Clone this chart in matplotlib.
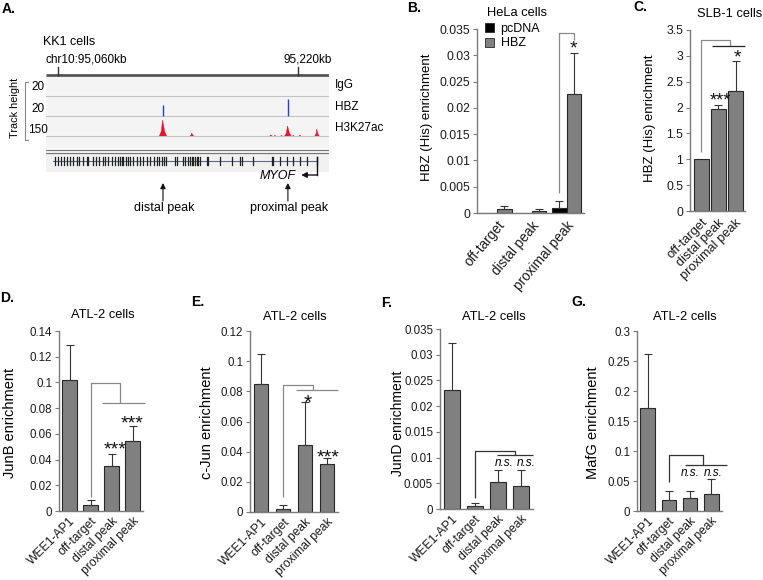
import matplotlib
matplotlib.use('Agg')
import matplotlib.pyplot as plt
from matplotlib.patches import Rectangle, Polygon
import numpy as np

plt.rcParams['font.family'] = ['Liberation Sans', 'DejaVu Sans']

W, H = 763, 580
fig = plt.figure(figsize=(W / 100, H / 100), dpi=100)


def fx(px):
    return px / W


def fy(py):
    return 1 - py / H


def add_ax(x0, y0, x1, y1):
    return fig.add_axes([x0 / W, 1 - y1 / H, (x1 - x0) / W, (y1 - y0) / H])


# ---------------- DATA ----------------
# Panel A (genome browser, positions in kb on chr10)
region_kb = [95052.0, 95240.7]
ruler_ticks_kb = [95060, 95220]
ruler_labels = ['chr10:95,060kb', '95,220kb']
track_names = ['IgG', 'HBZ', 'H3K27ac']
track_scales = ['20', '20', '150']
hbz_peak_kb = [95130.0, 95213.3]
hbz_peak_val = [11, 17]
k27_peak_kb = [95130.0, 95149.3, 95202.0, 95204.7, 95209.0, 95213.3, 95216.9, 95221.3, 95232.7]
k27_peak_val = [120, 22, 8, 4, 4, 75, 4, 6, 52]
k27_peak_halfwidth = [2.4, 1.3, 0.8, 0.5, 0.5, 2.2, 0.5, 0.6, 1.5]
gene_start_kb = 95056.7
gene_end_kb = 95232.7
exon_kb = [95058.0, 95060.2, 95061.8, 95064.0, 95065.8, 95068.0, 95070.2, 95072.4, 95074.2,
           95076.4, 95079.1, 95080.2, 95083.6, 95085.3, 95087.6, 95089.8, 95091.3, 95093.6,
           95095.8, 95098.0, 95100.2, 95101.3, 95102.4, 95103.6, 95105.3, 95106.9, 95108.0,
           95110.2, 95112.4, 95114.7, 95116.9, 95119.6, 95121.3, 95124.0, 95125.8, 95127.6,
           95129.1, 95130.7, 95132.0, 95138.0, 95139.1, 95143.6, 95144.7, 95146.9, 95148.0,
           95149.1, 95150.2, 95151.3, 95152.4, 95153.6, 95154.7, 95159.1, 95160.2, 95168.0,
           95175.8, 95181.3, 95182.4, 95190.2, 95202.4, 95203.6, 95208.0, 95212.4, 95216.9,
           95221.3, 95225.8, 95232.4]
gene_name = 'MYOF'
peak_names = ['distal peak', 'proximal peak']

# Panel B (HeLa)
b_sites = ['off-target', 'distal peak', 'proximal peak']
b_pcdna = [0.00004, 0.00003, 0.0009]
b_pcdna_err = [0.0, 0.0, 0.0013]
b_hbz = [0.0007, 0.0003, 0.0226]
b_hbz_err = [0.0007, 0.0004, 0.0079]

# Panel C (SLB-1)
c_sites = ['off-target', 'distal peak', 'proximal peak']
c_vals = [1.0, 1.97, 2.32]
c_err = [0.0, 0.08, 0.59]

# Panels D-G (ATL-2)
atl_sites = ['WEE1-AP1', 'off-target', 'distal peak', 'proximal peak']
d_junb = [0.102, 0.0047, 0.0353, 0.0543]
d_err = [0.027, 0.0035, 0.0087, 0.0117]
e_cjun = [0.0847, 0.0022, 0.0447, 0.0318]
e_err = [0.0203, 0.0027, 0.028, 0.0042]
f_jund = [0.0231, 0.0005, 0.0052, 0.0044]
f_err = [0.0092, 0.0007, 0.0023, 0.0031]
g_mafg = [0.171, 0.0183, 0.022, 0.028]
g_err = [0.091, 0.0156, 0.012, 0.025]

# ---------------- STYLE ----------------
BAR = '#808080'
EDGE = '#262626'
SPINE = '#7a7a7a'
TICKFS = 8.3


def style_axes(ax, ylim, yticks, xlim, xlabels, xfs=8.7, rot=45, pad=3):
    ax.set_ylim(*ylim)
    ax.set_xlim(*xlim)
    ax.set_yticks(yticks)
    ax.set_yticklabels([f'{v:g}' for v in yticks], fontsize=TICKFS, color='#1a1a1a')
    ax.set_xticks(np.arange(len(xlabels)))
    ax.set_xticklabels(xlabels, rotation=rot, ha='right', rotation_mode='anchor',
                       fontsize=xfs, color='#1a1a1a')
    for s in ['top', 'right']:
        ax.spines[s].set_visible(False)
    for s in ['left', 'bottom']:
        ax.spines[s].set_color(SPINE)
        ax.spines[s].set_linewidth(1.0)
    ax.tick_params(axis='y', direction='out', length=3, width=0.8, color=SPINE, pad=2)
    ax.tick_params(axis='x', length=0, pad=pad)
    ax.patch.set_alpha(0)


def draw_bars(ax, x, vals, errs, width, color=BAR):
    x = np.asarray(x, dtype=float)
    vals = np.asarray(vals)
    errs = np.asarray(errs)
    ax.bar(x, vals, width, color=color, edgecolor=EDGE, linewidth=0.8, zorder=2)
    m = errs > 0
    ax.errorbar(x[m], vals[m], yerr=[np.zeros(m.sum()), errs[m]], fmt='none',
                ecolor='#333333', elinewidth=0.8, capsize=3, capthick=0.8, zorder=3)


def line(ax, xs, ys, color='#888888', lw=0.9):
    ax.plot(xs, ys, color=color, lw=lw, clip_on=False, zorder=4, solid_capstyle='butt')


def star(ax, x, y, s, fs=14):
    # (x, y) is the visual centre of the asterisks; shift text box down since
    # the asterisk glyph sits in the upper part of the line box
    ax.annotate(s, xy=(x, y), xytext=(0, -0.23 * fs), textcoords='offset points',
                ha='center', va='center', fontsize=fs, color='#111111',
                annotation_clip=False)


def panel_letter(px, py, s):
    fig.text(fx(px), fy(py), s, fontsize=10, fontweight='bold', ha='left', va='center')


# ---------------- PANEL A ----------------
axa = add_ax(46, 60, 329, 215)
axa.set_xlim(*region_kb)
axa.set_ylim(215, 60)
axa.axis('off')
x0, x1 = region_kb
axa.add_patch(Rectangle((x0, 76), x1 - x0, 72, facecolor='#f4f4f4', edgecolor='none', zorder=0))
axa.add_patch(Rectangle((x0, 154), x1 - x0, 18, facecolor='#f1f1f1', edgecolor='none', zorder=0))
axa.plot([x0, x1], [75, 75], color='#555555', lw=2.0, solid_capstyle='butt')
for t in ruler_ticks_kb:
    axa.plot([t, t], [67, 75], color='#333333', lw=1.0)
for yy in [96, 116, 136]:
    axa.plot([x0, x1], [yy, yy], color='#c4c4c4', lw=0.8)
for yy in [150, 153]:
    axa.plot([x0, x1], [yy, yy], color='#777777', lw=0.9)
# HBZ track (base 116, 20 units over 20 px)
for p, v in zip(hbz_peak_kb, hbz_peak_val):
    axa.plot([p, p], [116, 116 - v * 20 / 20], color='#1f3fd6', lw=1.0, solid_capstyle='butt')
# H3K27ac track (base 136, 150 units over 20 px)
for p, v, w in zip(k27_peak_kb, k27_peak_val, k27_peak_halfwidth):
    h = v * 20 / 150
    verts = [(p - w, 136), (p - 0.45 * w, 136 - 0.3 * h), (p - 0.12 * w, 136 - h),
             (p + 0.1 * w, 136 - 0.75 * h), (p + 0.45 * w, 136 - 0.3 * h), (p + w, 136)]
    axa.add_patch(Polygon(verts, closed=True, facecolor='#e8102a', edgecolor='#e8102a', lw=0.3))
# gene model
axa.plot([gene_start_kb, gene_end_kb], [161, 161], color='#5a6a8a', lw=0.8)
for e in exon_kb:
    axa.plot([e, e], [157, 165], color='#222222', lw=0.9)
axa.plot([gene_end_kb, gene_end_kb], [157, 175], color='#111111', lw=1.0)
axa.annotate('', xy=(gene_end_kb - 10.5, 175), xytext=(gene_end_kb + 0.2, 175),
             arrowprops=dict(arrowstyle='-|>', color='#111111', lw=1.0, mutation_scale=8,
                             shrinkA=0, shrinkB=0))
for p in hbz_peak_kb:
    axa.annotate('', xy=(p, 183), xytext=(p, 201),
                 arrowprops=dict(arrowstyle='-|>', color='#111111', lw=0.8, mutation_scale=8,
                                 shrinkA=0, shrinkB=0))

panel_letter(2, 9, 'A.')
fig.text(fx(43), fy(42), 'KK1 cells', fontsize=9, ha='left', va='center')
fig.text(fx(45), fy(60), ruler_labels[0], fontsize=8.5, ha='left', va='center')
fig.text(fx(283), fy(60), ruler_labels[1], fontsize=8.5, ha='left', va='center')
for name, sc, yy in zip(track_names, track_scales, [85, 107, 128]):
    fig.text(fx(335), fy(yy), name, fontsize=8.5, ha='left', va='center')
    fig.text(fx(38), fy(yy + 2), sc, fontsize=8.5, ha='center', va='center')
fig.text(fx(15), fy(108), 'Track height', fontsize=7.8, rotation=90, ha='center', va='center')
fig.lines.append(plt.Line2D([fx(28), fx(25), fx(25), fx(28)], [fy(82), fy(82), fy(140), fy(140)],
                            transform=fig.transFigure, color='#888888', lw=0.8))
fig.text(fx(278), fy(176), gene_name, fontsize=9, style='italic', ha='center', va='center')
fig.text(fx(164), fy(208), peak_names[0], fontsize=9, ha='center', va='center')
fig.text(fx(289), fy(208), peak_names[1], fontsize=9, ha='center', va='center')

# ---------------- PANEL B ----------------
axb = add_ax(477, 29, 584, 213)
xb = np.arange(len(b_sites))
bw = 0.42
draw_bars(axb, xb - bw / 2, b_pcdna, b_pcdna_err, bw, color='#000000')
draw_bars(axb, xb + bw / 2, b_hbz, b_hbz_err, bw)
style_axes(axb, (0, 0.035), [0, 0.005, 0.01, 0.015, 0.02, 0.025, 0.03, 0.035],
           (-0.57, 2.5), b_sites, xfs=9.8, rot=50, pad=4)
axb.tick_params(axis='y', labelsize=8.8)
line(axb, [2 - bw / 2, 2 - bw / 2, 2 + bw / 2, 2 + bw / 2], [0.0038, 0.0342, 0.0342, 0.0330],
     color='#8a8a8a')
star(axb, 2 + bw / 2, 0.0320, '*', fs=14)
panel_letter(407, 8, 'B.')
fig.text(fx(487), fy(13), 'HeLa cells', fontsize=9.3, ha='left', va='center')
fig.text(fx(427), fy(117), 'HBZ (His) enrichment', fontsize=9.5, rotation=90,
         ha='center', va='center')
hb = [Rectangle((0, 0), 1, 1, facecolor='#000000', edgecolor=EDGE, lw=0.6),
      Rectangle((0, 0), 1, 1, facecolor=BAR, edgecolor=EDGE, lw=0.6)]
fig.legend(hb, ['pcDNA', 'HBZ'], loc='upper left', bbox_to_anchor=(fx(485), fy(23)),
           frameon=False, fontsize=9, handlelength=0.75, handleheight=0.75,
           handletextpad=0.5, labelspacing=0.2, borderpad=0, borderaxespad=0)

# ---------------- PANEL C ----------------
axc = add_ax(690, 30, 745, 211)
xc = np.arange(len(c_sites))
draw_bars(axc, xc, c_vals, c_err, 0.87)
style_axes(axc, (0, 3.5), [0, 0.5, 1, 1.5, 2, 2.5, 3, 3.5], (-0.65, 2.55), c_sites, xfs=9.3,
           pad=4)
axc.tick_params(axis='y', labelsize=8.8)
line(axc, [0, 0, 1.68, 1.68], [1.14, 3.31, 3.31, 3.19], color='#8a8a8a')
line(axc, [0.62, 2.56], [3.19, 3.19], color='#222222')
star(axc, 1.1, 2.2, '***', fs=13)
star(axc, 2.1, 3.04, '*', fs=14)
panel_letter(633, 7, 'C.')
fig.text(fx(730), fy(14), 'SLB-1 cells', fontsize=9.3, ha='center', va='center')
fig.text(fx(650), fy(118), 'HBZ (His) enrichment', fontsize=9.5, rotation=90,
         ha='center', va='center')

# ---------------- PANELS D-G ----------------
xa = np.arange(len(atl_sites))

# D
axd = add_ax(59, 331, 143, 511)
draw_bars(axd, xa, d_junb, d_err, 0.68)
style_axes(axd, (0, 0.14), [0, 0.02, 0.04, 0.06, 0.08, 0.1, 0.12, 0.14], (-0.5, 3.5), atl_sites)
line(axd, [1, 1, 2.4, 2.4], [0.0109, 0.0996, 0.0996, 0.084])
line(axd, [1.55, 3.6], [0.084, 0.084])
star(axd, 2.15, 0.0513, '***')
star(axd, 3.0, 0.0708, '***')
panel_letter(0, 298, 'D.')
fig.text(fx(103), fy(315), 'ATL-2 cells', fontsize=9.3, ha='center', va='center')
fig.text(fx(10), fy(423), 'JunB enrichment', fontsize=10.5, rotation=90, ha='center', va='center')

# E
axe = add_ax(250, 331, 338, 512)
draw_bars(axe, xa, e_cjun, e_err, 0.68)
style_axes(axe, (0, 0.12), [0, 0.02, 0.04, 0.06, 0.08, 0.1, 0.12], (-0.5, 3.5), atl_sites)
line(axe, [1, 1, 2.36, 2.36], [0.0099, 0.0842, 0.0842, 0.0809])
line(axe, [1.59, 3.5], [0.0809, 0.0809])
star(axe, 2.1, 0.0755, '*', fs=15)
star(axe, 3.05, 0.0391, '***')
panel_letter(191, 302, 'E.')
fig.text(fx(295), fy(317), 'ATL-2 cells', fontsize=9.3, ha='center', va='center')
fig.text(fx(207), fy(423), 'c-Jun enrichment', fontsize=10.5, rotation=90, ha='center', va='center')

# F
axf = add_ax(440, 329, 533, 509)
draw_bars(axf, xa, f_jund, f_err, 0.68)
style_axes(axf, (0, 0.035), [0, 0.005, 0.01, 0.015, 0.02, 0.025, 0.03, 0.035], (-0.5, 3.5),
           atl_sites)
line(axf, [1, 1, 2.73, 2.73], [0.0021, 0.0113, 0.0113, 0.0105], color='#333333')
line(axf, [1.95, 3.5], [0.0105, 0.0105], color='#333333')
axf.text(2.28, 0.0089, 'n.s.', style='italic', fontsize=8.5, ha='center', va='center')
axf.text(3.2, 0.0089, 'n.s.', style='italic', fontsize=8.5, ha='center', va='center',
         clip_on=False)
panel_letter(381, 303, 'F.')
fig.text(fx(494), fy(317), 'ATL-2 cells', fontsize=9.3, ha='center', va='center')
fig.text(fx(398), fy(423), 'JunD enrichment', fontsize=10, rotation=90, ha='center', va='center')

# G
axg = add_ax(637, 331, 722, 511)
draw_bars(axg, xa, g_mafg, g_err, 0.68)
style_axes(axg, (0, 0.3), [0, 0.05, 0.1, 0.15, 0.2, 0.25, 0.3], (-0.5, 3.5), atl_sites)
line(axg, [1, 1, 2.61, 2.61], [0.048, 0.093, 0.093, 0.077], color='#333333')
line(axg, [1.76, 3.74], [0.077, 0.077], color='#333333')
axg.text(2.0, 0.063, 'n.s.', style='italic', fontsize=8.5, ha='center', va='center')
axg.text(3.08, 0.063, 'n.s.', style='italic', fontsize=8.5, ha='center', va='center',
         clip_on=False)
panel_letter(571, 302, 'G.')
fig.text(fx(685), fy(317), 'ATL-2 cells', fontsize=9.3, ha='center', va='center')
fig.text(fx(593), fy(423), 'MafG enrichment', fontsize=10.5, rotation=90, ha='center', va='center')

fig.savefig('out.png', dpi=100)
